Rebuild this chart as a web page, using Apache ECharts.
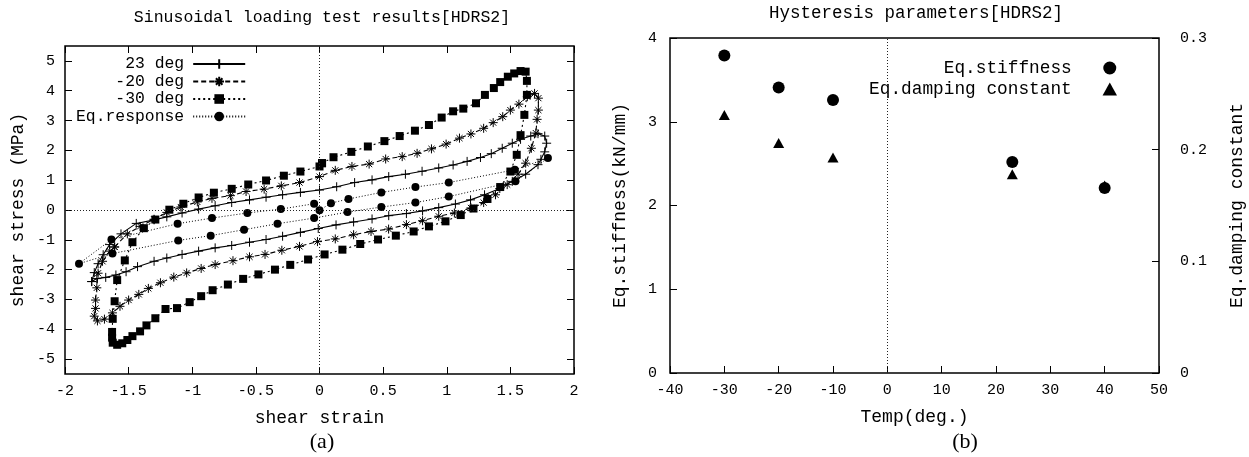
<!DOCTYPE html>
<html>
<head>
<meta charset="utf-8">
<script src="https://cdn.jsdelivr.net/npm/echarts@6.0.0/dist/echarts.min.js"></script>
<style>
  html, body { margin: 0; padding: 0; background: #fff; }
  #main { width: 1249px; height: 457px; }
</style>
</head>
<body>
<div id="main"></div>
<script type="text/javascript">
// (a) hysteresis loops, [shear strain, shear stress (MPa)]
var loop23 = [
  [-1.79,-2.40],[-1.77,-2.10],[-1.74,-1.80],[-1.70,-1.50],[-1.65,-1.16],[-1.56,-0.80],[-1.44,-0.45],
  [-1.30,-0.33],[-1.20,-0.23],[-1.08,-0.10],[-0.95,0.03],[-0.82,0.14],[-0.69,0.25],[-0.55,0.34],
  [-0.42,0.43],[-0.29,0.51],[-0.15,0.59],[0.00,0.67],[0.135,0.78],[0.276,0.92],[0.413,1.01],
  [0.544,1.12],[0.675,1.20],[0.806,1.30],[0.937,1.41],[1.05,1.51],[1.16,1.63],[1.265,1.76],
  [1.35,1.89],[1.436,2.07],[1.515,2.24],[1.58,2.37],[1.66,2.48],[1.717,2.56],[1.77,2.48],
  [1.785,2.24],[1.77,1.95],[1.74,1.70],[1.717,1.52],[1.62,1.20],[1.515,0.96],[1.417,0.72],
  [1.297,0.51],[1.187,0.34],[1.068,0.20],[0.937,0.08],[0.81,-0.03],[0.683,-0.12],[0.544,-0.19],
  [0.413,-0.30],[0.268,-0.40],[0.13,-0.50],[-0.01,-0.62],[-0.15,-0.75],[-0.29,-0.88],[-0.42,-0.99],
  [-0.55,-1.08],[-0.69,-1.19],[-0.82,-1.27],[-0.95,-1.38],[-1.08,-1.49],[-1.20,-1.61],[-1.30,-1.72],
  [-1.43,-1.90],[-1.52,-2.07],[-1.60,-2.18],[-1.68,-2.26],[-1.75,-2.30],[-1.79,-2.40]
];
var loopM20 = [
  [-1.61,-1.24],[-1.51,-0.80],[-1.41,-0.55],[-1.30,-0.31],[-1.20,-0.08],[-1.09,0.10],[-0.96,0.27],
  [-0.845,0.39],[-0.70,0.48],[-0.577,0.62],[-0.435,0.70],[-0.30,0.81],[-0.157,0.92],[0.00,1.12],
  [0.124,1.33],[0.255,1.46],[0.39,1.54],[0.52,1.71],[0.65,1.79],[0.767,1.90],[0.88,2.05],
  [0.995,2.21],[1.10,2.41],[1.19,2.55],[1.29,2.74],[1.365,2.93],[1.44,3.13],[1.50,3.35],
  [1.567,3.55],[1.633,3.80],[1.69,3.91],[1.72,3.75],[1.72,3.35],[1.71,3.04],[1.70,2.58],
  [1.665,2.07],[1.62,1.57],[1.56,1.20],[1.475,0.85],[1.383,0.51],[1.29,0.25],[1.19,0.07],
  [1.06,-0.10],[0.937,-0.21],[0.81,-0.36],[0.683,-0.49],[0.543,-0.64],[0.405,-0.72],[0.268,-0.83],
  [0.124,-0.97],[-0.016,-1.06],[-0.157,-1.22],[-0.296,-1.35],[-0.428,-1.49],[-0.55,-1.57],
  [-0.68,-1.70],[-0.82,-1.83],[-0.93,-1.96],[-1.044,-2.11],[-1.145,-2.25],[-1.25,-2.44],
  [-1.345,-2.63],[-1.42,-2.83],[-1.50,-3.02],[-1.568,-3.23],[-1.627,-3.45],[-1.69,-3.66],
  [-1.745,-3.72],[-1.77,-3.56],[-1.76,-3.30],[-1.76,-3.02],[-1.75,-2.61],[-1.74,-2.12],
  [-1.705,-1.72],[-1.648,-1.38],[-1.61,-1.24]
];
var loopM30 = [
  [0.02,1.57],[0.11,1.77],[0.25,1.95],[0.38,2.13],[0.51,2.31],[0.63,2.48],[0.75,2.66],[0.86,2.85],
  [0.96,3.10],[1.05,3.31],[1.13,3.40],[1.23,3.58],[1.30,3.86],[1.37,4.09],[1.42,4.29],[1.48,4.47],
  [1.53,4.58],[1.58,4.66],[1.62,4.64],[1.63,4.33],[1.63,3.86],[1.61,3.19],[1.58,2.51],[1.55,1.85],
  [1.50,1.29],[1.42,0.77],[1.32,0.37],[1.21,0.05],[1.11,-0.17],[0.99,-0.38],[0.86,-0.55],
  [0.74,-0.72],[0.60,-0.86],[0.46,-0.99],[0.32,-1.14],[0.18,-1.33],[0.04,-1.49],[-0.09,-1.66],
  [-0.23,-1.84],[-0.35,-2.00],[-0.48,-2.16],[-0.60,-2.31],[-0.72,-2.50],[-0.84,-2.69],[-0.93,-2.89],
  [-1.02,-3.09],[-1.12,-3.29],[-1.21,-3.32],[-1.29,-3.63],[-1.36,-3.87],[-1.41,-4.07],[-1.47,-4.23],
  [-1.51,-4.36],[-1.55,-4.47],[-1.59,-4.52],[-1.625,-4.45],[-1.63,-4.28],[-1.63,-4.09],
  [-1.625,-3.65],[-1.61,-3.06],[-1.59,-2.35],[-1.53,-1.69],[-1.47,-1.08],[-1.38,-0.61],
  [-1.29,-0.32],[-1.18,0.01],[-1.07,0.21],[-0.95,0.42],[-0.83,0.58],[-0.69,0.71],[-0.56,0.855],
  [-0.42,0.99],[-0.28,1.15],[-0.15,1.29],[0.00,1.46],[0.02,1.57]
];
var loopEq = [
  [0.00,-0.01],[0.09,0.23],[0.228,0.37],[0.486,0.59],[0.754,0.77],[1.016,0.92],[1.535,1.35],
  [1.795,1.74],[1.54,0.96],[1.016,0.45],[0.754,0.25],[0.486,0.10],[0.22,-0.07],[-0.042,-0.27],
  [-0.33,-0.46],[-0.593,-0.66],[-0.855,-0.86],[-1.11,-1.02],[-1.627,-1.46],[-1.89,-1.80],
  [-1.635,-0.99],[-1.115,-0.46],[-0.845,-0.27],[-0.567,-0.10],[-0.304,0.03],[-0.042,0.21]
];
var stressTicks = [-5,-4,-3,-2,-1,0,1,2,3,4,5];

// (b) hysteresis parameters
var temps = [-30, -20, -10, 23, 40];
var stiffness = [3.79, 3.41, 3.26, 2.52, 2.21];
var damping = [0.231, 0.206, 0.193, 0.178, 0.168];

var FONT = '"Liberation Mono", "Courier New", monospace';
var PLUS = 'path://M5,0L5,10M0,5L10,5';
var STAR = 'path://M5,0L5,10M0,5L10,5M1.6,1.6L8.4,8.4M8.4,1.6L1.6,8.4';
var TRI = 'path://M5,0L10,9L0,9Z';

function pairs(xs, ys) {
  var out = [];
  for (var i = 0; i < xs.length; i++) out.push([xs[i], ys[i]]);
  return out;
}

var noLine = { show: false, onZero: false };
var tickStyle = { show: true, inside: true, length: 7, lineStyle: { color: '#000', width: 1 } };
var nameStyle = { color: '#000', fontFamily: FONT, fontSize: 18 };

var myChart = echarts.init(document.getElementById('main'), null, { renderer: 'canvas' });
var option = {
  animation: false,
  backgroundColor: '#fff',
  title: [
    { text: 'Sinusoidal loading test results[HDRS2]', left: 322, top: 9, textAlign: 'center', padding: 0,
      textStyle: { fontFamily: FONT, fontSize: 16.5, fontWeight: 'normal', color: '#000' } },
    { text: 'Hysteresis parameters[HDRS2]', left: 916, top: 4, textAlign: 'center', padding: 0,
      textStyle: { fontFamily: FONT, fontSize: 17.5, fontWeight: 'normal', color: '#000' } }
  ],
  graphic: [
    { type: 'text', x: 322, y: 442, style: { text: '(a)', textAlign: 'center', textVerticalAlign: 'middle',
      font: '22px "Liberation Serif", "Times New Roman", serif', fill: '#000' } },
    { type: 'text', x: 965, y: 442, style: { text: '(b)', textAlign: 'center', textVerticalAlign: 'middle',
      font: '22px "Liberation Serif", "Times New Roman", serif', fill: '#000' } }
  ],
  legend: [
    {
      orient: 'vertical', align: 'right', left: 76, top: 56, padding: 0, itemGap: 1.5,
      itemWidth: 52, itemHeight: 12,
      textStyle: { color: '#000', fontFamily: FONT, fontSize: 16.4, lineHeight: 16, padding: [0, 4, 0, 0] },
      data: ['23 deg', '-20 deg', '-30 deg', 'Eq.response']
    },
    {
      orient: 'vertical', align: 'right', right: 132, top: 59, padding: 0, itemGap: 3,
      itemWidth: 66, itemHeight: 13,
      textStyle: { color: '#000', fontFamily: FONT, fontSize: 17.8, lineHeight: 17 },
      data: ['Eq.stiffness', 'Eq.damping constant']
    }
  ],
  grid: [
    { left: 65, top: 46, width: 509, height: 328, show: true, borderColor: '#000', borderWidth: 1.5,
      backgroundColor: 'transparent' },
    { left: 670, top: 38, width: 489, height: 335, show: true, borderColor: '#000', borderWidth: 1.5,
      backgroundColor: 'transparent' }
  ],
  xAxis: [
    { type: 'value', gridIndex: 0, min: -2, max: 2, interval: 0.5, position: 'bottom',
      axisLine: noLine, axisTick: tickStyle, splitLine: { show: false },
      axisLabel: { color: '#000', fontFamily: FONT, fontSize: 15, margin: 10 },
      name: 'shear strain', nameLocation: 'middle', nameGap: 35, nameTextStyle: nameStyle },
    { type: 'value', gridIndex: 0, min: -2, max: 2, interval: 0.5, position: 'top',
      axisLine: noLine, axisTick: tickStyle, splitLine: { show: false }, axisLabel: { show: false } },
    { type: 'value', gridIndex: 1, min: -40, max: 50, interval: 10, position: 'bottom',
      axisLine: noLine, axisTick: tickStyle, splitLine: { show: false },
      axisLabel: { color: '#000', fontFamily: FONT, fontSize: 15, margin: 10 },
      name: 'Temp(deg.)', nameLocation: 'middle', nameGap: 35, nameTextStyle: nameStyle }
  ],
  yAxis: [
    { type: 'value', gridIndex: 0, min: -5.5, max: 5.5, position: 'left',
      axisLine: noLine, splitLine: { show: false },
      axisTick: { show: true, inside: true, length: 7, lineStyle: { color: '#000' }, customValues: stressTicks },
      axisLabel: { color: '#000', fontFamily: FONT, fontSize: 15, margin: 10, customValues: stressTicks },
      name: 'shear stress (MPa)', nameLocation: 'middle', nameRotate: 90, nameGap: 38, nameTextStyle: nameStyle },
    { type: 'value', gridIndex: 0, min: -5.5, max: 5.5, position: 'right',
      axisLine: noLine, splitLine: { show: false },
      axisTick: { show: true, inside: true, length: 7, lineStyle: { color: '#000' }, customValues: stressTicks },
      axisLabel: { show: false } },
    { type: 'value', gridIndex: 1, min: 0, max: 4, interval: 1, position: 'left',
      axisLine: noLine, splitLine: { show: false }, axisTick: tickStyle,
      axisLabel: { color: '#000', fontFamily: FONT, fontSize: 15, margin: 13 },
      name: 'Eq.stiffness(kN/mm)', nameLocation: 'middle', nameRotate: 90, nameGap: 41, nameTextStyle: nameStyle },
    { type: 'value', gridIndex: 1, min: 0, max: 0.3, interval: 0.1, position: 'right',
      axisLine: noLine, splitLine: { show: false }, axisTick: tickStyle,
      axisLabel: { color: '#000', fontFamily: FONT, fontSize: 15, margin: 21 },
      name: 'Eq.damping constant', nameLocation: 'middle', nameRotate: 90, nameGap: 69, nameTextStyle: nameStyle }
  ],
  series: [
    {
      name: '23 deg', type: 'line', xAxisIndex: 0, yAxisIndex: 0, data: loop23,
      symbol: PLUS, symbolSize: 9, showAllSymbol: true,
      lineStyle: { color: '#000', width: 1.1, type: 'solid' },
      itemStyle: { color: '#000', borderColor: '#000', borderWidth: 1 },
      markLine: {
        silent: true, symbol: ['none', 'none'], label: { show: false },
        lineStyle: { color: '#222', width: 1, type: [1, 2] },
        data: [{ xAxis: 0 }, { yAxis: 0 }]
      }
    },
    {
      name: '-20 deg', type: 'line', xAxisIndex: 0, yAxisIndex: 0, data: loopM20,
      symbol: STAR, symbolSize: 9, showAllSymbol: true,
      lineStyle: { color: '#000', width: 1.1, type: [5, 3] },
      itemStyle: { color: '#000', borderColor: '#000', borderWidth: 1 }
    },
    {
      name: '-30 deg', type: 'line', xAxisIndex: 0, yAxisIndex: 0, data: loopM30,
      symbol: 'rect', symbolSize: 8, showAllSymbol: true,
      lineStyle: { color: '#000', width: 1.1, type: [2, 3] },
      itemStyle: { color: '#000' }
    },
    {
      name: 'Eq.response', type: 'line', xAxisIndex: 0, yAxisIndex: 0, data: loopEq,
      symbol: 'circle', symbolSize: 8, showAllSymbol: true,
      lineStyle: { color: '#000', width: 1, type: [1, 2] },
      itemStyle: { color: '#000' }
    },
    {
      name: 'Eq.stiffness', type: 'scatter', xAxisIndex: 2, yAxisIndex: 2,
      data: pairs(temps, stiffness), symbol: 'circle', symbolSize: 12,
      itemStyle: { color: '#000', opacity: 1 },
      markLine: {
        silent: true, symbol: ['none', 'none'], label: { show: false },
        lineStyle: { color: '#222', width: 1, type: [1, 2] },
        data: [{ xAxis: 0 }]
      }
    },
    {
      name: 'Eq.damping constant', type: 'scatter', xAxisIndex: 2, yAxisIndex: 3,
      data: pairs(temps, damping), symbol: TRI, symbolSize: 11, symbolKeepAspect: true,
      itemStyle: { color: '#000', opacity: 1 }
    }
  ]
};
myChart.setOption(option);
</script>
</body>
</html>
